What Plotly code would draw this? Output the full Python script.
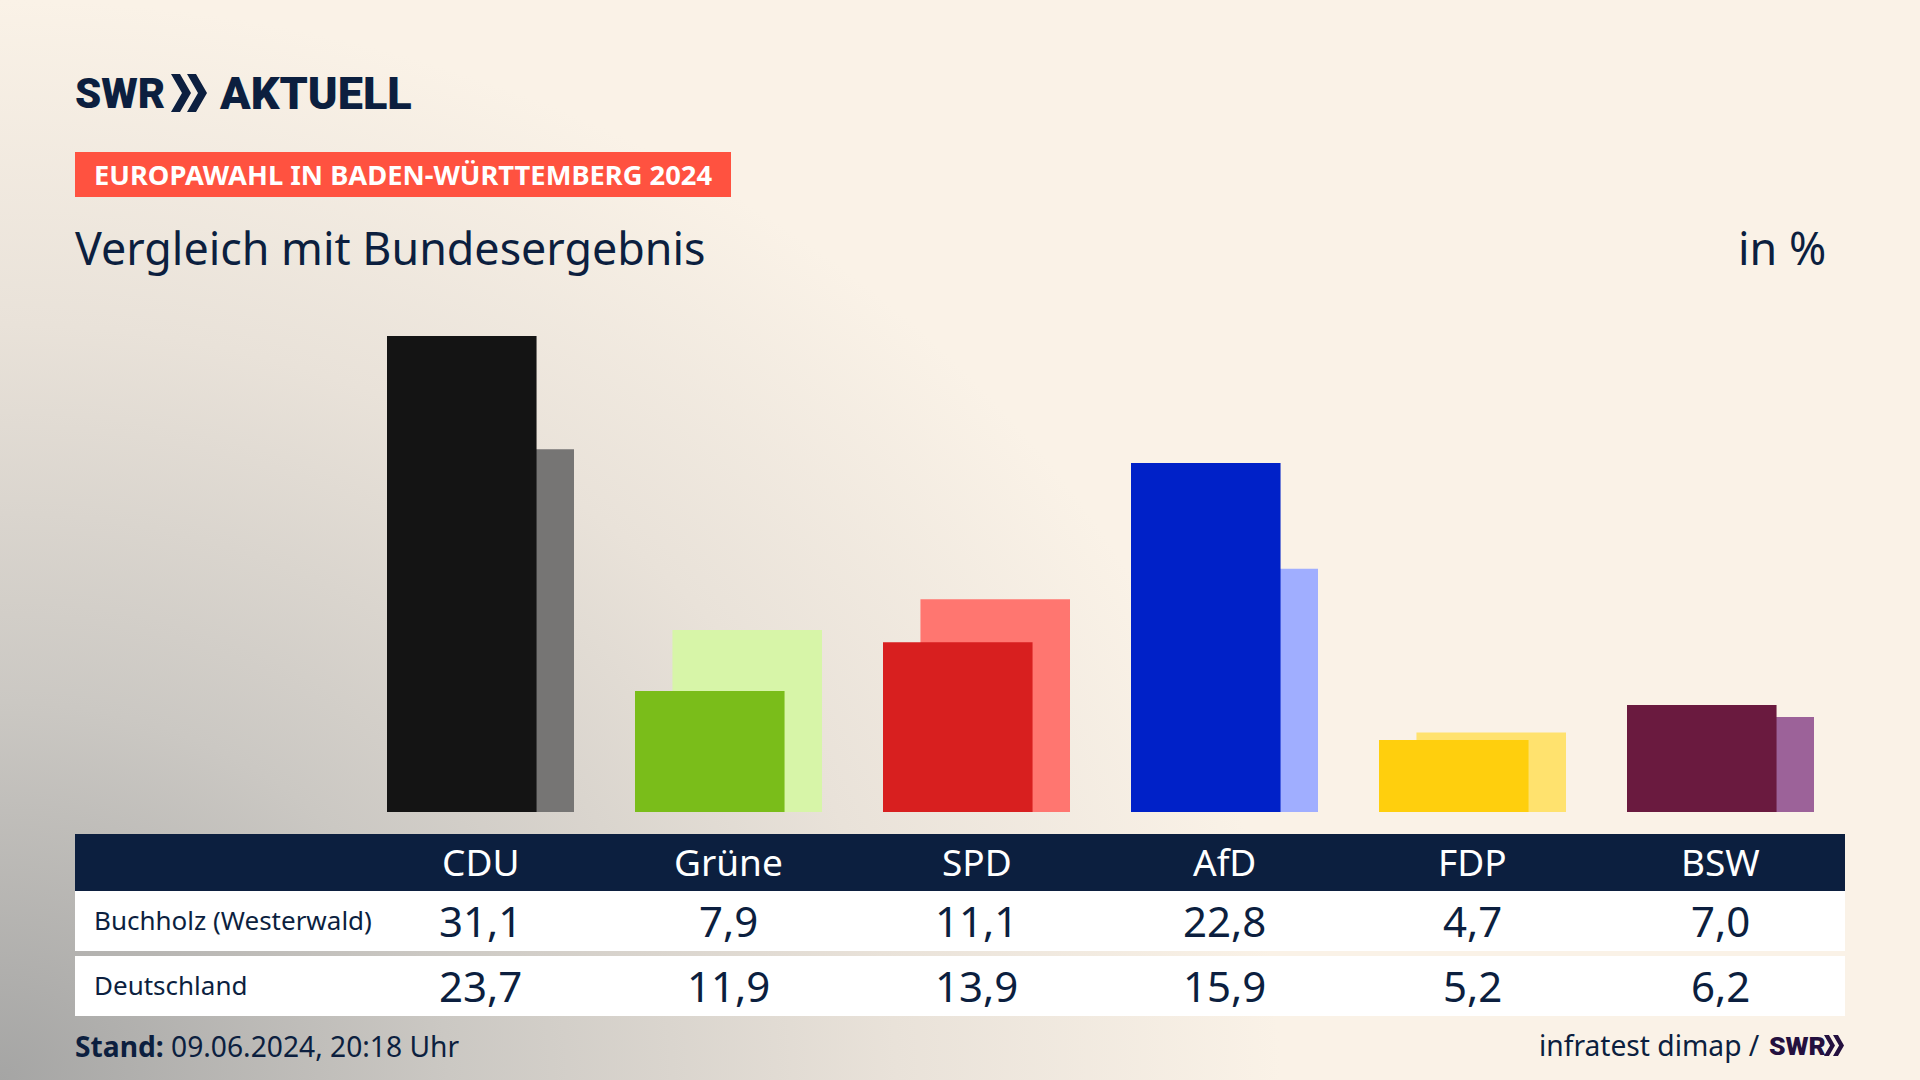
import base64
import plotly.graph_objects as go

# values
parties = ["CDU", "Grüne", "SPD", "AfD", "FDP", "BSW"]
buchholz = [31.1, 7.9, 11.1, 22.8, 4.7, 7.0]
deutschland = [23.7, 11.9, 13.9, 15.9, 5.2, 6.2]
row_names = ["Buchholz (Westerwald)", "Deutschland"]

# colours
main_colors = ["#141414", "#7abd1a", "#d81f1f", "#0021c8", "#ffcf0d", "#6a1a3f"]
light_colors = ["#767574", "#d7f5a8", "#ff7670", "#a0aeff", "#ffe26e", "#9c6299"]
navy = "#0c1f3f"
FONT = "Noto Sans"
LOGO_FONT = "Roboto"

W, H = 1920, 1080


# pixel to paper helpers
def px(x):
    return x / W


def py(y):
    return 1 - y / H


def text(x, y, s, size, color=navy, xanchor="left", xref="paper", weight=None, family=FONT):
    return dict(x=px(x) if xref == "paper" else x, y=py(y), xref=xref, yref="paper", text=s,
                showarrow=False, xanchor=xanchor, yanchor="middle",
                font=dict(family=family, size=size, color=color, weight=weight))


def chevrons(x, top, bottom, w, gap, color):
    # the two arrows of the SWR logo
    mid = (top + bottom) / 2
    shapes = []
    for i in range(2):
        x0 = x + i * gap
        p = [(x0, top), (x0 + w * 0.45, top), (x0 + w, mid), (x0 + w * 0.45, bottom), (x0, bottom), (x0 + w * 0.55, mid)]
        path = "M " + " L ".join(f"{px(a):.5f},{py(b):.5f}" for a, b in p) + " Z"
        shapes.append(dict(type="path", path=path, xref="paper", yref="paper", fillcolor=color, line_width=0))
    return shapes


def box(x0, y0, x1, y1, color):
    return dict(type="rect", xref="paper", yref="paper", x0=px(x0), x1=px(x1), y0=py(y1), y1=py(y0),
                fillcolor=color, line_width=0)


# background gradient
svg = f"""<svg xmlns="http://www.w3.org/2000/svg" width="{W}" height="{H}"><defs>
<radialGradient id="g" gradientUnits="userSpaceOnUse" cx="0" cy="0" r="1"
gradientTransform="translate(0 {H}) scale(1280 1080)">
<stop offset="0" stop-color="#a5a5a4"/><stop offset="0.35" stop-color="#cbc8c3"/>
<stop offset="0.7" stop-color="#e9e2d9"/><stop offset="1" stop-color="#faf2e7"/>
</radialGradient></defs><rect width="{W}" height="{H}" fill="#faf2e7"/><rect width="{W}" height="{H}" fill="url(#g)"/></svg>"""
bg = "data:image/svg+xml;base64," + base64.b64encode(svg.encode()).decode()

fig = go.Figure()

# Deutschland bars behind, Buchholz bars in front
fig.add_trace(go.Bar(x=parties, y=deutschland, name=row_names[1], marker_color=light_colors,
                     marker_line_width=0, width=0.603, offset=-0.226))
fig.add_trace(go.Bar(x=parties, y=buchholz, name=row_names[0], marker_color=main_colors,
                     marker_line_width=0, width=0.603, offset=-0.377))

shapes = [box(75, 152, 731, 197, "#ff5240"), box(75, 834, 1845, 891, navy),
          box(75, 891, 1845, 951, "white"), box(75, 956, 1845, 1016, "white")]
shapes += chevrons(171, 74, 112, 20, 16, navy)
shapes += chevrons(1824, 1035, 1056, 11, 9, "#24103f")

annotations = [
    text(73, 93, "SWR", 42, weight=900, family=LOGO_FONT),
    text(217, 93, "AKTUELL", 45, weight=900, family=LOGO_FONT),
    text(92, 175, "EUROPAWAHL IN BADEN-WÜRTTEMBERG 2024", 27.3, "white", weight=700),
    text(73, 247, "Vergleich mit Bundesergebnis", 44.8),
    text(1828, 247, "in %", 44.8, xanchor="right"),
    text(73, 1046, "<b>Stand:</b> 09.06.2024, 20:18 Uhr", 28.2),
    text(1762, 1045, "infratest dimap /", 28.2, xanchor="right"),
    text(1767, 1045, "SWR", 26.5, "#24103f", weight=900, family=LOGO_FONT),
    text(92, 920, row_names[0], 26),
    text(92, 985, row_names[1], 26),
]

# table cells
for i, party in enumerate(parties):
    annotations.append(text(party, 861, party, 37, "white", "center", "x"))
    annotations.append(text(party, 920, f"{buchholz[i]:.1f}".replace(".", ","), 42, navy, "center", "x"))
    annotations.append(text(party, 985, f"{deutschland[i]:.1f}".replace(".", ","), 42, navy, "center", "x"))

fig.update_layout(
    width=W, height=H, margin=dict(l=0, r=0, t=0, b=0),
    barmode="overlay", showlegend=False,
    paper_bgcolor="#faf2e7", plot_bgcolor="rgba(0,0,0,0)",
    font=dict(family=FONT, color=navy),
    shapes=shapes, annotations=annotations,
    images=[dict(source=bg, xref="paper", yref="paper", x=0, y=1, sizex=1, sizey=1,
                 sizing="stretch", xanchor="left", yanchor="top", layer="below")],
    xaxis=dict(domain=[px(356.5), px(1844.5)], categoryorder="array", categoryarray=parties,
               range=[-0.5, 5.5], showticklabels=False, ticks="", showgrid=False, zeroline=False),
    yaxis=dict(domain=[py(812), py(307)], range=[0, 33], showticklabels=False, ticks="",
               showgrid=False, zeroline=False),
)

fig.write_html("out.html", config=dict(displayModeBar=False),
               post_script="document.body.style.margin='0';document.body.style.overflow='hidden';")
